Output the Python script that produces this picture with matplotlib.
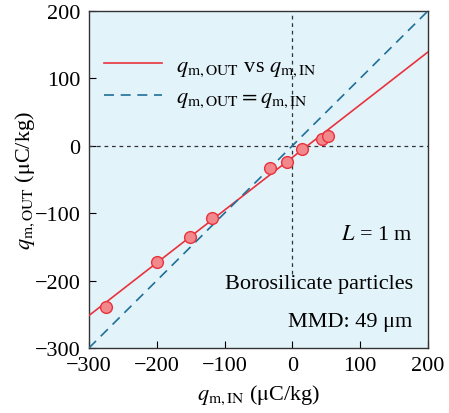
import numpy as np
import matplotlib
matplotlib.use("Agg")
import matplotlib.pyplot as plt

plt.rcParams['font.family'] = ['Liberation Serif', 'DejaVu Serif']
plt.rcParams['mathtext.fontset'] = 'stix'

# data
q_in = [-275, -199, -151, -118, -33, -8, 15, 44, 52]
q_out = [-239, -172, -135, -107, -33, -24, -5, 10, 15]
fit_slope = 0.782
fit_icpt = -17.3

fig = plt.figure(figsize=(4.49, 4.14), dpi=100)
ax = fig.add_axes([0.198, 0.157, 0.755, 0.814])
ax.set_facecolor('#e3f3fa')

xx = np.array([-300, 200])
ax.plot(xx, fit_slope * xx + fit_icpt, color='#e8323c', lw=1.2,
        label=r'$q_{\mathrm{m,OUT}}$ vs $q_{\mathrm{m,IN}}$', zorder=3)
ax.plot(xx, xx, color='#1f6f98', lw=1.2, ls=(0, (6, 4)),
        label=r'$q_{\mathrm{m,OUT}} = q_{\mathrm{m,IN}}$', zorder=3)
ax.scatter(q_in, q_out, s=72, facecolor='#f2878c', edgecolor='#e8323c',
           lw=1.0, zorder=4)

ax.axhline(0, color='#333333', lw=0.9, ls=(0, (3, 3)), zorder=2)
ax.plot([0, 0], [-190, 200], color='#333333', lw=0.9, ls=(0, (3, 3)), zorder=2)

ax.set_xlim(-300, 200)
ax.set_ylim(-300, 200)
ax.set_xticks([-300, -200, -100, 0, 100, 200])
ax.set_yticks([-300, -200, -100, 0, 100, 200])
ax.set_xticklabels(['\u2212300', '\u2212200', '\u2212100', '0', '100', '200'])
ax.set_yticklabels(['\u2212300', '\u2212200', '\u2212100', '0', '100', '200'])
ax.tick_params(direction='in', labelsize=16, length=5, width=0.8, pad=6)
for s in ax.spines.values():
    s.set_linewidth(1.0)
    s.set_color('#333333')

ax.set_xlabel(r'$q_{\mathrm{m,IN}}$ ($\mathrm{\mu}$C/kg)', fontsize=16, labelpad=5)
ax.set_ylabel(r'$q_{\mathrm{m,OUT}}$ ($\mathrm{\mu}$C/kg)', fontsize=16, labelpad=-2)

ax.legend(loc='upper left', frameon=False, fontsize=16, handlelength=2.6,
          handletextpad=0.6, borderaxespad=0.3, labelspacing=0.4,
          bbox_to_anchor=(0.0, 0.915))

ax.text(0.955, 0.338, r'$L$ = 1 m', transform=ax.transAxes, ha='right',
        va='center', fontsize=16)
ax.text(0.955, 0.19, 'Borosilicate particles', transform=ax.transAxes,
        ha='right', va='center', fontsize=16)
ax.text(0.955, 0.08, 'MMD: 49 \u03bcm', transform=ax.transAxes,
        ha='right', va='center', fontsize=16)

fig.savefig('out.png', dpi=100)
